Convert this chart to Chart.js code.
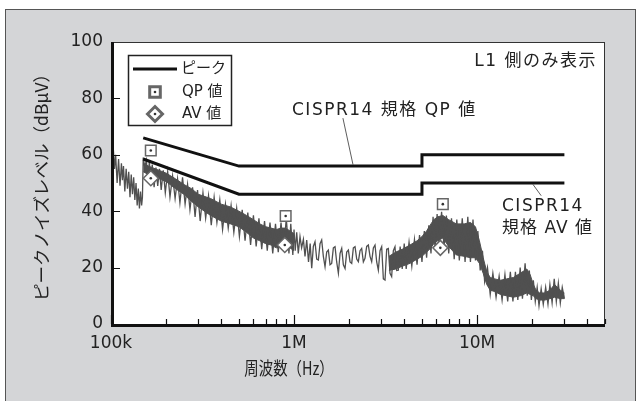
<!DOCTYPE html>
<html>
<head>
<meta charset="utf-8">
<script src="https://cdn.jsdelivr.net/npm/chart.js@4.4.1/dist/chart.umd.min.js"></script>
<style>
    html, body { margin: 0; padding: 0; background: #fff; }
    canvas { display: block; }
</style>
</head>
<body>
<canvas id="graficoRuido" width="637" height="401"></canvas>
<script>
// 周波数は kHz、レベルは dBμV
var xTickKHz = [100, 1000, 10000];
var xTickLabels = ['100k', '1M', '10M'];
var yTicks = [0, 20, 40, 60, 80, 100];

var qpLimitKHz = [150, 500, 5000, 5000, 30000];
var qpLimitDb = [66, 56, 56, 60, 60];
var avLimitKHz = [150, 500, 5000, 5000, 30000];
var avLimitDb = [58.5, 46, 46, 50, 50];

var qpKHz = [165, 900, 6500];
var qpDb = [61.5, 38.3, 42.5];
var avKHz = [165, 890, 6300];
var avDb = [51.7, 28, 27];

// ピーク波形（ジグザグ）
var peakKHz = [
    100, 101.5, 103, 104.5, 106, 108, 110, 112, 114, 115.5, 117, 119, 121, 123, 125, 127, 129, 131, 133, 135, 137, 139, 141, 143, 145, 147, 148.5, 150,
    153, 156, 159, 162, 165, 168, 172, 176, 180, 184, 188, 193, 198, 204, 210, 217, 224, 231, 238, 246, 254, 262, 270, 279, 288, 297, 307, 318, 329, 341, 353, 366, 379, 393, 407, 422, 437, 453, 469, 486, 503, 521, 540, 559, 579, 600, 621, 643, 666, 690, 714, 739, 765, 792, 820, 849, 878, 907, 938, 960, 985, 1000,
    1015, 1034, 1055, 1078, 1100, 1125, 1148, 1173, 1200, 1225, 1249, 1275, 1302, 1330, 1358, 1387, 1416, 1446, 1477, 1508, 1540, 1573, 1606, 1640, 1675, 1710, 1747, 1784, 1822, 1860, 1900, 1940, 1981, 2023, 2066, 2109, 2154, 2200, 2246, 2294, 2342, 2392, 2442, 2494, 2547, 2601, 2656, 2713, 2770, 2829, 2888, 2950, 3012,
    3076, 3141, 3208, 3275, 3345, 3415, 3488, 3561, 3638, 3714, 3800, 3900, 4000, 4100, 4250, 4400, 4550, 4700, 4850, 5000, 5150, 5300, 5450, 5600, 5750, 5900, 6050, 6200, 6400, 6600, 6800, 7000, 7250, 7500, 7750, 8000, 8300, 8600, 8900, 9200, 9500, 9800, 10100, 10400, 10700, 11000, 11400, 11800, 12200, 12700, 13200, 13700, 14200, 14700, 15200, 15700, 16200, 16700, 17200, 17700, 18300, 18800, 19300, 19800, 20300, 20800, 21300, 21800, 22400, 23000, 23700, 24400, 25000, 25700, 26400, 27100, 27800, 28500, 29200, 30000
];
var peakDb = [
    64.5, 57, 62, 55, 60, 50, 58.5, 49, 57, 51, 56, 47, 55, 48, 54, 45, 53, 46, 52, 44, 50, 42, 48, 41, 47, 42, 45, 59,
    55.5, 58, 51.5, 57.5, 51, 56.5, 48.5, 55.5, 49, 55, 47.5, 54.5, 46.5, 54, 45, 52.5, 44.5, 51.5, 43, 52, 42.5, 49.5, 40.5, 48.5, 38, 47.5, 36.5, 46.5, 37.5, 45.5, 35, 45, 36, 44, 33.5, 42.5, 34, 42, 32.5, 41, 31, 40.5, 29.5, 39.5, 28, 38.5, 27.5, 37.5, 26.5, 36.5, 26, 36, 25, 35.5, 25.5, 36, 26, 37.5, 25, 35.5, 24.5, 33.5,
    26, 32.5, 25, 31, 27, 30, 24, 29.8, 22, 28.5, 19.8, 27.5, 29.2, 23, 22.7, 28.5, 29.8, 24, 20.3, 25.5, 26.2, 21, 21.5, 27, 27.4, 22, 18, 25, 26.8, 21, 19.7, 25.5, 26.2, 22, 21.5, 27, 27.4, 23, 22.1, 26, 26.8, 22, 23.3, 27.5, 28, 24, 22.1, 27, 28, 22, 19.1, 26, 27.4,
    16, 15.6, 26.5, 26.8, 18, 16.8, 26, 27.4, 19, 19.1, 27.5, 19.5, 28.5, 19.5, 29, 20.5, 30, 21, 31.5, 22, 33, 23.5, 35, 25, 38, 26.5, 39, 28, 39.8, 27, 38.5, 25, 37.5, 23, 37, 22.5, 37.5, 22, 38, 22, 37, 22.5, 33, 19, 26, 15, 20, 10.5, 18, 9.5, 17, 8.5, 17.5, 8, 18.5, 8, 18.5, 8.5, 20, 9, 21.5, 10, 19, 8.5, 15.5, 8, 13, 6.5, 12.5, 7, 13, 7, 14, 7.5, 16, 8, 14.5, 7.5, 13, 9
];

// 密な部分の中心帯（上下）
var band1KHz = [150, 160, 175, 200, 225, 250, 275, 300, 350, 400, 450, 500, 550, 600, 650, 700, 750, 800, 850, 900, 950, 1000];
var band1Hi = [57, 56, 55, 53.5, 51.5, 49.5, 48, 46, 44.5, 42.5, 41.5, 40, 38.5, 37, 35.5, 34.5, 34, 33.5, 34, 34, 33, 32];
var band1Lo = [54, 53, 52, 50.5, 48, 46, 43.5, 41.5, 38.5, 36.5, 35.5, 34.5, 32.5, 30.5, 29.5, 28.5, 28, 27, 27.5, 28, 27, 26];
var band2KHz = [3300, 3600, 3900, 4300, 4700, 5000, 5300, 5600, 5800, 6100, 6500, 7000, 7700, 8500, 9200, 9800, 10300, 10800, 11300, 11800, 12500, 13400, 14500, 15800, 17200, 18700, 19500, 20300, 21000, 22000, 23500, 25000, 26500, 28500, 30000];
var band2Hi = [24, 25.5, 26.5, 28, 29.5, 31, 33, 35.5, 37, 38, 38.5, 37, 35.5, 35.5, 36, 34.5, 29.5, 23.5, 18.5, 16.5, 16, 15.5, 16, 16.5, 18, 19.5, 17.5, 14, 12, 11, 11, 12, 14, 12, 11];
var band2Lo = [19, 19.5, 20.5, 21.5, 23, 24, 25.5, 27, 28.5, 29.5, 30.5, 27.5, 24.5, 24, 23.5, 23.5, 21.5, 18, 14, 12, 11.5, 10.5, 10, 9.5, 10, 11, 10.5, 10, 9, 8.5, 8.5, 9, 9.5, 9, 9];

var FONTE = "'DejaVu Sans', 'Noto Sans CJK JP', sans-serif";
var FONTE_JP = "'Noto Sans CJK JP', sans-serif";
var COR_TRACO = '#505050';
var COR_MARCA = '#666666';

function pontos(xs, ys) {
    return xs.map(function(f, i) {
        return { x: f * 1000, y: ys[i] };
    });
}

function texto(ctx, s, x, y, tamanho, alinhar, espaco, escalaX, familia) {
    ctx.save();
    ctx.translate(x, y);
    ctx.scale(escalaX || 1, 1);
    ctx.font = tamanho + 'px ' + (familia || FONTE);
    ctx.letterSpacing = (espaco || 0) + 'px';
    ctx.textAlign = alinhar || 'left';
    ctx.textBaseline = 'middle';
    ctx.fillStyle = '#222';
    ctx.fillText(s, 0, 0);
    ctx.restore();
}

function desenharMarca(ctx, estilo, x, y) {
    ctx.save();
    ctx.fillStyle = '#fff';
    ctx.strokeStyle = COR_MARCA;
    Chart.helpers.drawPoint(ctx, { pointStyle: estilo, radius: 7.5, borderWidth: 1.5, rotation: 0 }, x, y);
    ctx.fillStyle = '#333';
    ctx.beginPath();
    ctx.arc(x, y, 1.3, 0, Math.PI * 2);
    ctx.fill();
    ctx.restore();
}

var fundoPlugin = {
    id: 'fundo',
    beforeDraw: function(chart) {
        var ctx = chart.ctx, a = chart.chartArea;
        ctx.save();
        ctx.fillStyle = '#fff';
        ctx.fillRect(0, 0, chart.width, chart.height);
        ctx.fillStyle = '#d4d5d7';
        ctx.fillRect(5, 9, 631, 400);
        ctx.strokeStyle = '#555';
        ctx.lineWidth = 1;
        ctx.strokeRect(5.5, 9.5, 630, 400);
        ctx.fillStyle = '#fff';
        ctx.fillRect(a.left, a.top, a.right - a.left, a.bottom - a.top);
        ctx.restore();
    },
    afterDraw: function(chart) {
        var ctx = chart.ctx, a = chart.chartArea;
        var xs = chart.scales.x, ys = chart.scales.y;
        ctx.save();

        // 枠
        ctx.strokeStyle = '#333';
        ctx.lineWidth = 1;
        ctx.strokeRect(a.left + 0.5, a.top + 0.5, a.right - a.left - 1, a.bottom - a.top);
        ctx.strokeStyle = '#111';
        ctx.lineWidth = 3;
        ctx.beginPath();
        ctx.moveTo(a.left + 1.5, a.top);
        ctx.lineTo(a.left + 1.5, a.bottom + 1.5);
        ctx.lineTo(a.right, a.bottom + 1.5);
        ctx.stroke();

        // 目盛り（内向き）
        ctx.lineWidth = 1.2;
        ctx.beginPath();
        yTicks.forEach(function(v) {
            if (v === 0 || v === 100) return;
            var py = Math.round(ys.getPixelForValue(v)) + 0.5;
            ctx.moveTo(a.left, py);
            ctx.lineTo(a.left + 9, py);
        });
        [1e5, 1e6, 1e7].forEach(function(dec) {
            for (var m = 1; m <= 9; m++) {
                var f = dec * m;
                if (f > xs.max) break;
                var px = Math.round(xs.getPixelForValue(f)) + 0.5;
                var comp = m === 1 ? 9 : 5;
                ctx.moveTo(px, a.bottom);
                ctx.lineTo(px, a.bottom - comp);
            }
        });
        ctx.stroke();

        // 凡例
        ctx.fillStyle = '#fff';
        ctx.fillRect(128, 55, 103, 70);
        ctx.strokeStyle = '#222';
        ctx.lineWidth = 1.5;
        ctx.strokeRect(128.5, 55.5, 103, 70);
        ctx.strokeStyle = '#111';
        ctx.lineWidth = 3;
        ctx.beginPath();
        ctx.moveTo(133, 69);
        ctx.lineTo(177, 69);
        ctx.stroke();
        texto(ctx, 'ピーク', 181, 69, 15);
        desenharMarca(ctx, 'rect', 155, 92);
        texto(ctx, 'QP 値', 182, 92, 15);
        desenharMarca(ctx, 'rectRot', 155, 114);
        texto(ctx, 'AV 値', 182, 114, 15);

        // 注記
        ctx.strokeStyle = '#333';
        ctx.lineWidth = 0.8;
        ctx.beginPath();
        ctx.moveTo(xs.getPixelForValue(1850e3), ys.getPixelForValue(73));
        ctx.lineTo(xs.getPixelForValue(2100e3), ys.getPixelForValue(56.5));
        ctx.moveTo(xs.getPixelForValue(20200e3), ys.getPixelForValue(49.5));
        ctx.lineTo(xs.getPixelForValue(22400e3), ys.getPixelForValue(45.5));
        ctx.stroke();

        texto(ctx, 'L1 側のみ表示', 597, 62, 17, 'right', 1.5);
        texto(ctx, 'CISPR14 規格 QP 値', 292, 111, 17, 'left', 1.5);
        texto(ctx, 'CISPR14', 502, 207, 17, 'left', 1.5);
        texto(ctx, '規格 AV 値', 502, 229, 17, 'left', 1);
        texto(ctx, '周波数（Hz）', 289, 368, 18, 'center', 0, 0.8, FONTE_JP);

        ctx.restore();
    }
};

function faixa(xs, ys, preenche) {
    return {
        data: pontos(xs, ys),
        borderColor: COR_TRACO,
        backgroundColor: COR_TRACO,
        borderWidth: 1,
        pointRadius: 0,
        tension: 0,
        fill: preenche
    };
}

function marca(xs, ys, estilo, raio, cor, fundo, borda) {
    return {
        type: 'scatter',
        data: pontos(xs, ys),
        pointStyle: estilo,
        pointRadius: raio,
        pointBorderColor: cor,
        pointBackgroundColor: fundo,
        pointBorderWidth: borda,
        showLine: false
    };
}

function limite(xs, ys) {
    return {
        data: pontos(xs, ys),
        borderColor: '#111',
        borderWidth: 3,
        pointRadius: 0,
        tension: 0,
        fill: false
    };
}

document.addEventListener('DOMContentLoaded', function() {
    var contexto = document.getElementById('graficoRuido').getContext('2d');

    window.graficoRuido = new Chart(contexto, {
        type: 'line',
        data: {
            datasets: [
                marca(qpKHz, qpDb, 'circle', 1.3, '#333', '#333', 0),
                marca(avKHz, avDb, 'circle', 1.3, '#333', '#333', 0),
                marca(qpKHz, qpDb, 'rect', 7.5, COR_MARCA, '#fff', 1.5),
                marca(avKHz, avDb, 'rectRot', 7.5, COR_MARCA, '#fff', 1.5),
                limite(qpLimitKHz, qpLimitDb),
                limite(avLimitKHz, avLimitDb),
                {
                    label: 'ピーク',
                    data: pontos(peakKHz, peakDb),
                    borderColor: COR_TRACO,
                    borderWidth: 1.3,
                    pointRadius: 0,
                    tension: 0,
                    fill: false
                },
                faixa(band1KHz, band1Hi, '+1'),
                faixa(band1KHz, band1Lo, false),
                faixa(band2KHz, band2Hi, '+1'),
                faixa(band2KHz, band2Lo, false)
            ]
        },
        options: {
            responsive: false,
            animation: false,
            devicePixelRatio: 1,
            layout: {
                padding: { top: 42, right: 32, left: 0, bottom: 0 }
            },
            plugins: {
                legend: { display: false },
                tooltip: { enabled: false }
            },
            scales: {
                x: {
                    type: 'logarithmic',
                    min: 1e5,
                    max: 5e7,
                    afterBuildTicks: function(scale) {
                        scale.ticks = xTickKHz.map(function(v) { return { value: v * 1000 }; });
                    },
                    afterFit: function(scale) { scale.height = 77; },
                    grid: { display: false, drawTicks: false },
                    border: { display: false },
                    ticks: {
                        padding: 9,
                        color: '#222',
                        autoSkip: false,
                        maxRotation: 0,
                        font: { family: FONTE, size: 17 },
                        callback: function(value) {
                            var i = xTickKHz.indexOf(value / 1000);
                            return i >= 0 ? xTickLabels[i] : '';
                        }
                    }
                },
                y: {
                    min: 0,
                    max: 100,
                    afterBuildTicks: function(scale) {
                        scale.ticks = yTicks.map(function(v) { return { value: v }; });
                    },
                    afterFit: function(scale) { scale.width = 111; },
                    grid: { display: false, drawTicks: false },
                    border: { display: false },
                    ticks: {
                        padding: 8,
                        color: '#222',
                        font: { family: FONTE, size: 17 }
                    },
                    title: {
                        display: true,
                        text: 'ピークノイズレベル（dBμV）',
                        color: '#222',
                        font: { family: FONTE_JP, size: 17.5 },
                        padding: { top: 31 }
                    }
                }
            }
        },
        plugins: [fundoPlugin]
    });
});
</script>
</body>
</html>
